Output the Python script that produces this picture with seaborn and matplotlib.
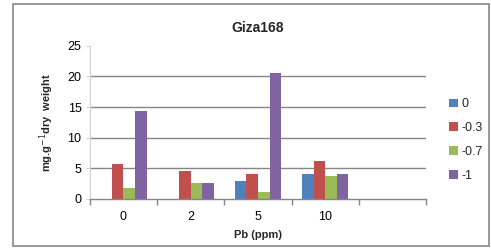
import matplotlib
matplotlib.use("Agg")
import matplotlib.pyplot as plt
import seaborn as sns
import pandas as pd
import numpy as np
from matplotlib.patches import Rectangle, Patch
from matplotlib.ticker import FixedLocator

# Data
categories = ["0", "2", "5", "10", ""]
series = ["0", "-0.3", "-0.7", "-1"]
s_0 = [np.nan, np.nan, 3.0, 4.1]
s_m03 = [5.7, 4.6, 4.1, 6.2]
s_m07 = [1.85, 2.6, 1.15, 3.75]
s_m1 = [14.4, 2.6, 20.6, 4.1]
colors = ["#4F81BD", "#C0504D", "#9BBB59", "#8064A2"]

rows = []
for name, vals in zip(series, [s_0, s_m03, s_m07, s_m1]):
    for cat, v in zip(categories[:4], vals):
        rows.append({"Pb": cat, "series": name, "value": v})
df = pd.DataFrame(rows)

sns.set_style("white")
plt.rcParams["font.family"] = ["Liberation Sans", "DejaVu Sans"]

fig = plt.figure(figsize=(4.91, 2.48), dpi=100)
ax = fig.add_axes([0.183, 0.198, 0.685, 0.617])

sns.barplot(data=df, x="Pb", y="value", hue="series", order=categories,
            hue_order=series, palette=colors, width=0.69, ax=ax,
            saturation=1, errorbar=None, legend=False, linewidth=0)

ax.set_ylim(0, 25)
ax.set_xlim(-0.5, 4.5)
ax.set_yticks([0, 5, 10, 15, 20, 25])
for yv in [5, 10, 15, 20]:
    ax.axhline(yv, color="#868686", lw=1, zorder=0)
ax.set_axisbelow(True)

for s in ["top", "right"]:
    ax.spines[s].set_visible(False)
ax.spines["left"].set_color("#D0D0D0")
ax.spines["bottom"].set_color("#868686")
ax.spines["bottom"].set_linewidth(1)

ax.xaxis.set_minor_locator(FixedLocator(np.arange(-0.5, 5, 1)))
ax.tick_params(axis="x", which="major", length=0, labelsize=9, pad=9, colors="#000000")
ax.tick_params(axis="x", which="minor", length=4, direction="out", color="#868686", width=1)
ax.tick_params(axis="y", which="major", length=3, direction="out", color="#D0D0D0", labelsize=9, pad=3)
ax.tick_params(axis="both", bottom=True, left=True, which="both")
for lab in ax.get_yticklabels():
    lab.set_color("#000000")

ax.set_xlabel("Pb (ppm)", fontsize=8, fontweight="bold", labelpad=5)
ax.set_ylabel("mg.g$^{-1}$dry  weight", fontsize=8, fontweight="bold", labelpad=8)
ax.set_title("Giza168", fontsize=10, fontweight="bold", pad=10)

handles = [Patch(facecolor=c, edgecolor="none") for c in colors]
fig.legend(handles, series, loc="center left", bbox_to_anchor=(0.905, 0.435),
           frameon=False, fontsize=9, handlelength=0.7, handleheight=0.7,
           handletextpad=0.3, labelspacing=0.95, borderaxespad=0)

fig.patches.append(Rectangle((0.027, 0.008), 0.968, 0.975, transform=fig.transFigure,
                             fill=False, edgecolor="#888888", lw=1.2))

fig.savefig("out.png", dpi=100)
